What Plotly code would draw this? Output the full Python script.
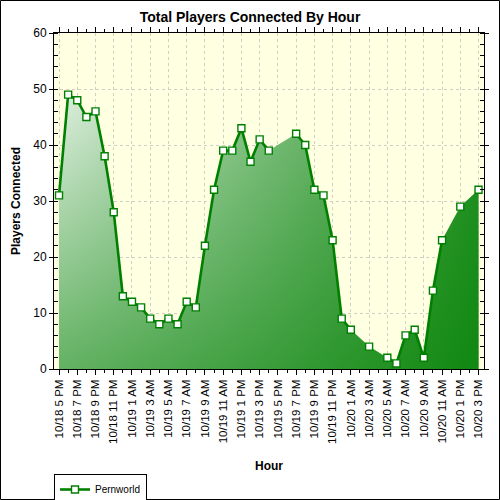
import plotly.graph_objects as go

# ---- data ----
hours = [
    "10/18 5 PM", "10/18 6 PM", "10/18 7 PM", "10/18 8 PM", "10/18 9 PM", "10/18 10 PM",
    "10/18 11 PM", "10/19 12 AM", "10/19 1 AM", "10/19 2 AM", "10/19 3 AM", "10/19 4 AM",
    "10/19 5 AM", "10/19 6 AM", "10/19 7 AM", "10/19 8 AM", "10/19 9 AM", "10/19 10 AM",
    "10/19 11 AM", "10/19 12 PM", "10/19 1 PM", "10/19 2 PM", "10/19 3 PM", "10/19 4 PM",
    "10/19 5 PM", "10/19 6 PM", "10/19 7 PM", "10/19 8 PM", "10/19 9 PM", "10/19 10 PM",
    "10/19 11 PM", "10/20 12 AM", "10/20 1 AM", "10/20 2 AM", "10/20 3 AM", "10/20 4 AM",
    "10/20 5 AM", "10/20 6 AM", "10/20 7 AM", "10/20 8 AM", "10/20 9 AM", "10/20 10 AM",
    "10/20 11 AM", "10/20 12 PM", "10/20 1 PM", "10/20 2 PM", "10/20 3 PM",
]
players = [
    31, 49, 48, 45, 46, 38,
    28, 13, 12, 11, 9, 8,
    9, 8, 12, 11, 22, 32,
    39, 39, 43, 37, 41, 39,
    None, None, 42, 40, 32, 31,
    23, 9, 7, None, 4, None,
    2, 1, 6, 7, 2, 14,
    23, None, 29, None, 32,
]
series_name = "Pernworld"
tick_every = 2

# ---- derived ----
xs = list(range(len(hours)))
fx = [x for x, v in zip(xs, players) if v is not None]
fy = [v for v in players if v is not None]
tickvals = xs[::tick_every]
ticktext = hours[::tick_every]

FONT = "Liberation Sans, Arial, sans-serif"
GREEN = "#008000"
XR = [-0.55, 46.6]
YR = [0, 60]

fig = go.Figure()

# base fill: vertical gradient (light at top, greener at bottom)
fig.add_trace(go.Scatter(
    x=fx, y=fy, mode="none", fill="tozeroy", showlegend=False, hoverinfo="skip",
    fillgradient=dict(type="vertical", start=YR[0], stop=YR[1],
                      colorscale=[[0, "rgb(100,178,100)"], [1, "rgb(252,253,252)"]]),
))
# overlay fill: horizontal green tint growing to the right
fig.add_trace(go.Scatter(
    x=fx, y=fy, mode="none", fill="tozeroy", showlegend=False, hoverinfo="skip",
    fillgradient=dict(type="horizontal", start=XR[0], stop=XR[1],
                      colorscale=[[0, "rgba(0,128,0,0)"], [1, "rgba(0,128,0,0.85)"]]),
))
# line with markers (gaps not connected)
fig.add_trace(go.Scatter(
    x=xs, y=players, mode="lines+markers", name=series_name, connectgaps=False,
    line=dict(color=GREEN, width=2.6),
    marker=dict(symbol="square", size=7, color="white", line=dict(color=GREEN, width=1.4)),
))

L, R, T, B = 54, 16, 33, 131
PW, PH = 500 - L - R, 500 - T - B

fig.update_layout(
    width=500, height=500,
    margin=dict(l=L, r=R, t=T, b=B, autoexpand=False),
    paper_bgcolor="white",
    plot_bgcolor="#FFFFE2",
    font=dict(family=FONT, color="black", size=11),
    title=dict(text="Total Players Connected By Hour", x=0.5, xref="container",
               xanchor="center", y=1 - 17 / 500, yref="container", yanchor="middle",
               font=dict(family=FONT, size=14, weight="bold", color="black")),
    showlegend=True,
    legend=dict(x=0, xanchor="left", y=(369 - 474) / PH, yanchor="top",
                bgcolor="white", bordercolor="black", borderwidth=1,
                font=dict(family=FONT, size=10, color="black"),
                itemwidth=30, tracegroupgap=0),
    shapes=[dict(type="rect", xref="paper", yref="paper",
                 x0=-(L - 0.5) / PW, x1=(500 - L - 0.5) / PW,
                 y0=-(B - 0.5) / PH, y1=(PH + T - 0.5) / PH,
                 line=dict(color="black", width=1), fillcolor="rgba(0,0,0,0)", layer="above")],
)

fig.update_xaxes(
    range=XR, tickmode="array", tickvals=tickvals, ticktext=ticktext, tickangle=-90,
    ticks="outside", ticklen=5, tickcolor="black", tickwidth=1,
    showline=True, linecolor="black", linewidth=1, mirror="ticks",
    showgrid=True, gridcolor="#cfcfc4", griddash="dot", gridwidth=1, zeroline=False,
    minor=dict(dtick=1, tick0=0, ticks="outside", ticklen=3, tickcolor="black", showgrid=False),
    tickfont=dict(family=FONT, size=11.5, color="black"),
    title=dict(text="Hour", standoff=18, font=dict(family=FONT, size=12, weight="bold", color="black")),
    automargin=False,
)
fig.update_yaxes(
    range=YR, dtick=10, tick0=0,
    ticks="outside", ticklen=4, tickcolor="black", tickwidth=1,
    showline=True, linecolor="black", linewidth=1, mirror="ticks",
    showgrid=True, gridcolor="#cfcfc4", griddash="dot", gridwidth=1, zeroline=False,
    minor=dict(dtick=2, tick0=0, ticks="inside", ticklen=4, tickcolor="black", showgrid=False),
    tickfont=dict(family=FONT, size=12, color="black"),
    title=dict(text="Players Connected", standoff=10, font=dict(family=FONT, size=12, weight="bold", color="black")),
    automargin=False,
)

fig.write_html("out.html")
